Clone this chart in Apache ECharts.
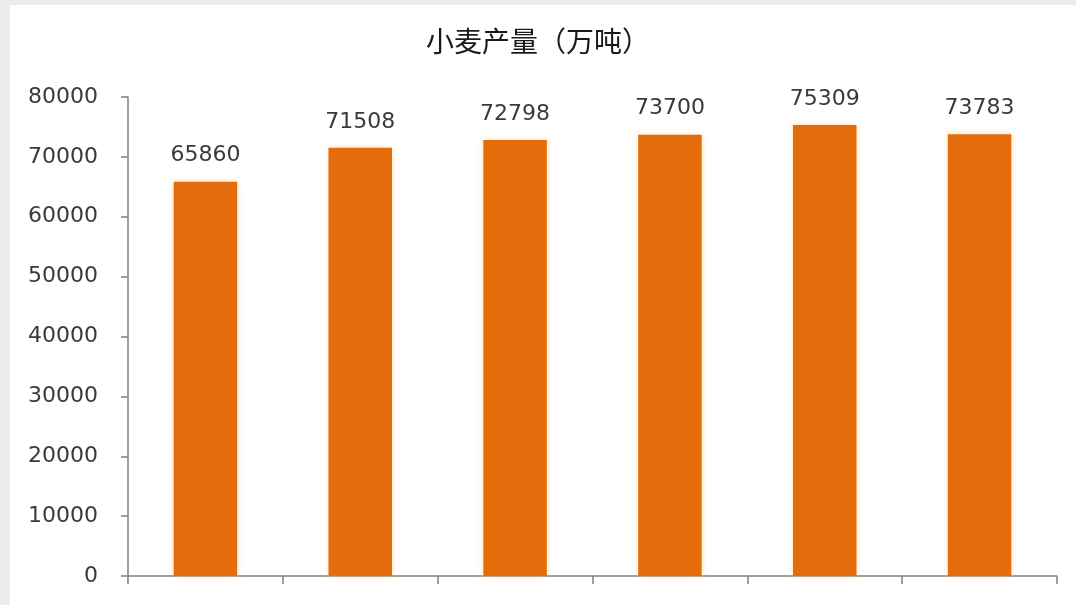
<!DOCTYPE html>
<html>
<head>
<meta charset="utf-8">
<script src="https://cdn.jsdelivr.net/npm/echarts@6/dist/echarts.min.js"></script>
<style>
  html, body { margin: 0; padding: 0; background: #ececec; }
  #frame { position: absolute; left: 10px; top: 5px; width: 1066px; height: 600px; background: #ffffff; overflow: hidden; }
  #chart { position: absolute; left: -10px; top: -5px; width: 1076px; height: 605px; }
</style>
</head>
<body>
<div id="frame"><div id="chart"></div></div>
<script>
const title = '小麦产量（万吨）';
const categories = ['2012/13', '2013/14', '2014/15', '2015/16', '2016/17', '2017/18'];
const production = [65860, 71508, 72798, 73700, 75309, 73783];
const yTicks = [0, 10000, 20000, 30000, 40000, 50000, 60000, 70000, 80000];

const chart = echarts.init(document.getElementById('chart'), null, { renderer: 'canvas' });
chart.setOption({
  backgroundColor: 'transparent',
  animation: false,
  title: {
    text: title,
    left: 'center',
    top: 22,
    textStyle: { fontFamily: 'Noto Sans CJK SC', fontSize: 28, fontWeight: 'normal', color: '#1a1a1a' }
  },
  grid: { left: 128, right: 19, top: 97, bottom: 29, containLabel: false },
  xAxis: {
    type: 'category',
    data: categories,
    axisLine: { show: true, lineStyle: { color: '#808080', width: 1.5 } },
    axisTick: { show: true, length: 8, alignWithLabel: false, lineStyle: { color: '#808080', width: 1.5 } },
    axisLabel: { show: false }
  },
  yAxis: {
    type: 'value',
    min: yTicks[0],
    max: yTicks[yTicks.length - 1],
    interval: yTicks[1] - yTicks[0],
    splitLine: { show: false },
    axisLine: { show: true, lineStyle: { color: '#808080', width: 1.5 } },
    axisTick: { show: true, length: 7, lineStyle: { color: '#808080', width: 1.5 } },
    axisLabel: {
      fontFamily: 'DejaVu Sans', fontSize: 22, color: '#3a3a3a', margin: 30,
      formatter: function (v) { return String(v); }
    }
  },
  series: [{
    type: 'bar',
    data: production,
    barWidth: '41%',
    itemStyle: {
      color: '#E46C0A',
      shadowBlur: 6,
      shadowColor: 'rgba(255, 200, 120, 0.6)'
    },
    label: {
      show: true,
      position: 'top',
      distance: 15,
      fontFamily: 'DejaVu Sans',
      fontSize: 22,
      color: '#3a3a3a'
    }
  }]
});
</script>
</body>
</html>
